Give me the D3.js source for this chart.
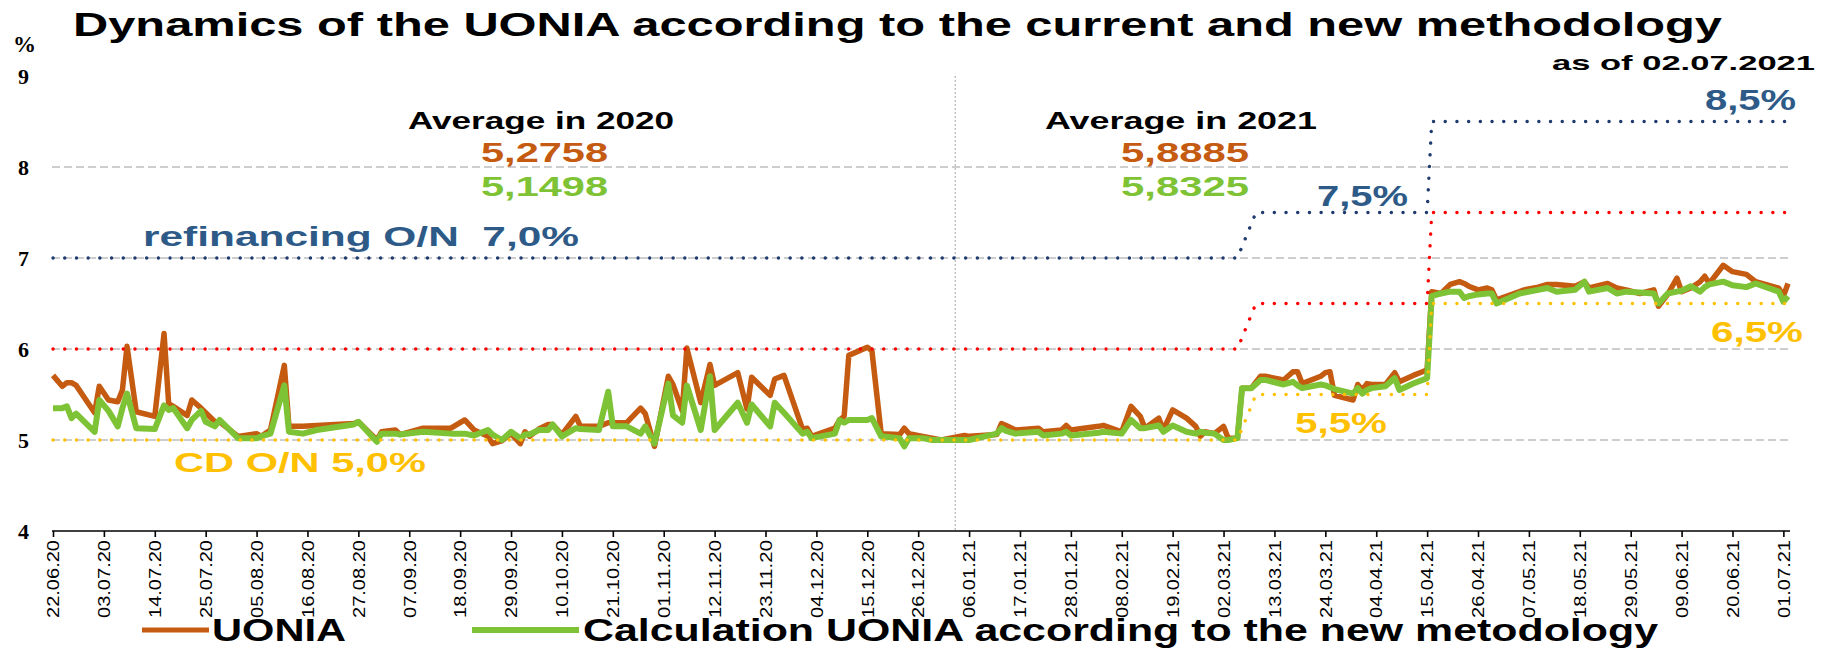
<!DOCTYPE html>
<html><head><meta charset="utf-8">
<script src="https://cdn.jsdelivr.net/npm/d3@7"></script>
<style>body{margin:0;background:#fff}svg{display:block}</style>
</head><body>
<svg id="c" width="1827" height="649"></svg>
<script>
const dates = ["22.06.20","24.06.20","25.06.20","26.06.20","27.06.20","01.07.20","02.07.20","04.07.20","06.07.20","07.07.20","08.07.20","10.07.20","14.07.20","16.07.20","17.07.20","18.07.20","21.07.20","22.07.20","24.07.20","25.07.20","27.07.20","28.07.20","01.08.20","05.08.20","06.08.20","08.08.20","11.08.20","12.08.20","15.08.20","18.08.20","26.08.20","27.08.20","31.08.20","01.09.20","04.09.20","05.09.20","10.09.20","16.09.20","19.09.20","21.09.20","24.09.20","25.09.20","27.09.20","29.09.20","01.10.20","02.10.20","03.10.20","05.10.20","07.10.20","08.10.20","10.10.20","13.10.20","14.10.20","18.10.20","20.10.20","21.10.20","24.10.20","27.10.20","28.10.20","30.10.20","02.11.20","03.11.20","05.11.20","06.11.20","09.11.20","11.11.20","12.11.20","17.11.20","19.11.20","20.11.20","24.11.20","25.11.20","27.11.20","01.12.20","02.12.20","03.12.20","08.12.20","09.12.20","10.12.20","11.12.20","15.12.20","16.12.20","18.12.20","22.12.20","23.12.20","24.12.20","27.12.20","29.12.20","31.12.20","05.01.21","06.01.21","12.01.21","13.01.21","14.01.21","16.01.21","21.01.21","22.01.21","26.01.21","27.01.21","28.01.21","03.02.21","04.02.21","08.02.21","10.02.21","12.02.21","13.02.21","16.02.21","17.02.21","19.02.21","22.02.21","24.02.21","25.02.21","26.02.21","28.02.21","02.03.21","03.03.21","05.03.21","06.03.21","08.03.21","10.03.21","11.03.21","15.03.21","17.03.21","18.03.21","19.03.21","23.03.21","24.03.21","25.03.21","26.03.21","30.03.21","31.03.21","01.04.21","02.04.21","03.04.21","06.04.21","08.04.21","09.04.21","12.04.21","14.04.21","15.04.21","16.04.21","18.04.21","20.04.21","22.04.21","23.04.21","24.04.21","26.04.21","28.04.21","29.04.21","30.04.21","05.05.21","06.05.21","09.05.21","11.05.21","13.05.21","17.05.21","19.05.21","20.05.21","24.05.21","26.05.21","28.05.21","31.05.21","03.06.21","04.06.21","06.06.21","08.06.21","09.06.21","11.06.21","13.06.21","14.06.21","15.06.21","18.06.21","20.06.21","23.06.21","25.06.21","30.06.21","01.07.21","02.07.21"];
const uonia = [5.71,5.59,5.63,5.63,5.60,5.30,5.59,5.44,5.42,5.55,6.03,5.31,5.26,6.17,5.40,5.37,5.27,5.44,5.35,5.30,5.20,5.20,5.04,5.07,5.04,5.11,5.82,5.15,5.15,5.16,5.18,5.20,5.00,5.09,5.11,5.06,5.13,5.13,5.22,5.11,5.04,4.96,4.99,5.07,4.96,5.09,5.04,5.12,5.17,5.17,5.06,5.26,5.15,5.15,5.19,5.19,5.19,5.35,5.29,4.93,5.70,5.61,5.32,6.01,5.41,5.83,5.60,5.74,5.34,5.69,5.49,5.67,5.71,5.12,5.13,5.04,5.13,5.22,5.26,5.93,6.02,5.98,5.07,5.06,5.13,5.07,5.04,5.02,5.00,5.05,5.04,5.06,5.18,5.16,5.11,5.13,5.09,5.11,5.16,5.11,5.15,5.16,5.09,5.37,5.26,5.13,5.24,5.11,5.33,5.24,5.15,5.04,5.09,5.07,5.15,5.02,5.02,5.57,5.57,5.70,5.70,5.66,5.75,5.75,5.62,5.70,5.74,5.75,5.49,5.44,5.61,5.55,5.62,5.61,5.61,5.74,5.64,5.71,5.75,5.77,6.63,6.61,6.71,6.74,6.72,6.69,6.65,6.67,6.65,6.54,6.63,6.65,6.68,6.71,6.71,6.69,6.74,6.67,6.72,6.67,6.65,6.61,6.65,6.47,6.60,6.78,6.63,6.67,6.74,6.80,6.72,6.92,6.85,6.82,6.74,6.67,6.58,6.72];
const newMethod = [5.35,5.35,5.37,5.24,5.29,5.09,5.44,5.32,5.15,5.35,5.51,5.13,5.12,5.38,5.33,5.35,5.13,5.22,5.32,5.20,5.15,5.22,5.02,5.02,5.04,5.07,5.60,5.09,5.07,5.11,5.17,5.20,4.98,5.07,5.07,5.06,5.09,5.07,5.07,5.05,5.11,5.06,5.00,5.09,5.02,5.06,5.06,5.11,5.11,5.17,5.04,5.13,5.12,5.11,5.53,5.15,5.15,5.07,5.15,4.96,5.62,5.27,5.19,5.60,5.11,5.70,5.11,5.41,5.19,5.39,5.15,5.41,5.30,5.07,5.09,5.02,5.07,5.22,5.19,5.22,5.22,5.24,5.04,5.02,4.93,5.02,5.02,5.00,5.00,5.00,5.00,5.07,5.13,5.10,5.07,5.09,5.05,5.07,5.09,5.05,5.08,5.09,5.07,5.22,5.13,5.13,5.16,5.09,5.16,5.09,5.07,5.09,5.08,5.07,5.00,5.00,5.02,5.57,5.57,5.66,5.66,5.61,5.64,5.60,5.57,5.61,5.60,5.58,5.56,5.51,5.57,5.51,5.55,5.57,5.59,5.68,5.55,5.62,5.66,5.68,6.58,6.61,6.63,6.63,6.56,6.58,6.60,6.61,6.61,6.50,6.61,6.62,6.65,6.67,6.63,6.65,6.74,6.63,6.67,6.61,6.63,6.62,6.61,6.50,6.61,6.63,6.64,6.69,6.63,6.68,6.71,6.74,6.70,6.68,6.72,6.63,6.52,6.58];
const rateDates = ["22.06.20","05.03.21","09.03.21","15.04.21","16.04.21","02.07.21"];
const refinancing = [7.0,7.0,7.5,7.5,8.5,8.5];
const repoRate = [6.0,6.0,6.5,6.5,7.5,7.5];
const depositRate = [5.0,5.0,5.5,5.5,6.5,6.5];
const tickDates = ["22.06.20","03.07.20","14.07.20","25.07.20","05.08.20","16.08.20","27.08.20","07.09.20","18.09.20","29.09.20","10.10.20","21.10.20","01.11.20","12.11.20","23.11.20","04.12.20","15.12.20","26.12.20","06.01.21","17.01.21","28.01.21","08.02.21","19.02.21","02.03.21","13.03.21","24.03.21","04.04.21","15.04.21","26.04.21","07.05.21","18.05.21","29.05.21","09.06.21","20.06.21","01.07.21"];
const yTicks = [4,5,6,7,8,9];
const gridValues = [5,6,7,8];
const yearSplit = "03.01.21";
const avg2020 = ["5,2758","5,1498"];
const avg2021 = ["5,8885","5,8325"];
const seriesNames = ["UONIA","Calculation UONIA according to the new metodology"];

const parse = d3.timeParse("%d.%m.%y");
const svg = d3.select("#c");
const C = {orange:"#C55A11", green:"#7DC335", red:"#FF0000", yellow:"#FFC000", navy:"#1F3A6E", navyText:"#2E5A88", grid:"#BFBFBF"};

const x = d3.scaleTime().domain([parse("22.06.20"), parse("02.07.21")]).range([53, 1788]);
const y = d3.scaleLinear().domain([4, 9]).range([531, 76]);

// grid
svg.append("g").selectAll("line").data(gridValues).join("line")
  .attr("x1", 52).attr("x2", 1791).attr("y1", d => y(d)).attr("y2", d => y(d))
  .attr("stroke", C.grid).attr("stroke-width", 1.6).attr("stroke-dasharray", "8,4");

// year separator
svg.append("line").attr("x1", x(parse(yearSplit))).attr("x2", x(parse(yearSplit)))
  .attr("y1", y(9)).attr("y2", y(4)).attr("stroke", "#A6A6A6").attr("stroke-width", 1).attr("stroke-dasharray", "2,2");

// x axis
const xAxis = d3.axisBottom(x).tickValues(tickDates.map(parse)).tickFormat(d3.timeFormat("%d.%m.%y")).tickSize(6).tickSizeOuter(0);
const gx = svg.append("g").attr("transform", "translate(0,531)").call(xAxis);
gx.select(".domain").attr("stroke", "#000").attr("stroke-width", 1.6).attr("d", "M52,0H1790");
gx.selectAll(".tick line").attr("stroke", "#000").attr("stroke-width", 1.6);
gx.selectAll(".tick text")
  .attr("font-family", "'Liberation Sans', Arial, sans-serif").attr("font-size", 16).attr("fill", "#000")
  .attr("transform", "rotate(-90)").attr("text-anchor", "end")
  .attr("x", -9).attr("y", 0).attr("dy", "0.36em")
  .attr("textLength", 78).attr("lengthAdjust", "spacingAndGlyphs");

// y labels
svg.append("g").selectAll("text").data(yTicks).join("text")
  .attr("x", 29).attr("y", d => y(d)).attr("dy", "0.35em").attr("text-anchor", "end")
  .attr("font-family", "'Liberation Serif', 'Times New Roman', serif").attr("font-weight", "bold").attr("font-size", 22)
  .text(d => d);
svg.append("text").attr("x", 13).attr("y", 52).attr("font-family", "'Liberation Serif', serif").attr("font-weight", "bold").attr("font-size", 23).text("%");

// series
const line = d3.line().x(d => x(d[0])).y(d => y(d[1]));
const ds = dates.map(parse);
svg.append("path").datum(ds.map((d, i) => [d, uonia[i]])).attr("d", line)
  .attr("fill", "none").attr("stroke", C.orange).attr("stroke-width", 5.5).attr("stroke-linejoin", "round");
svg.append("path").datum(ds.map((d, i) => [d, newMethod[i]])).attr("d", line)
  .attr("fill", "none").attr("stroke", C.green).attr("stroke-width", 6).attr("stroke-linejoin", "round");

// rate lines (dotted)
const rd = rateDates.map(parse);
[[refinancing, C.navy], [repoRate, C.red], [depositRate, C.yellow]].forEach(([vals, col]) => {
  svg.append("path").datum(rd.map((d, i) => [d, vals[i]])).attr("d", line)
    .attr("fill", "none").attr("stroke", col).attr("stroke-width", 3.4)
    .attr("stroke-linecap", "round").attr("stroke-dasharray", "0.1,11.6");
});

// texts
function txt(xp, yp, s, size, col, w, fam) {
  const t = svg.append("text").attr("x", xp).attr("y", yp).attr("font-size", size)
    .attr("font-family", fam || "'Liberation Sans', Arial, sans-serif").attr("font-weight", "bold")
    .attr("fill", col).text(s);
  if (w) t.attr("textLength", w).attr("lengthAdjust", "spacingAndGlyphs");
  return t;
}
txt(73, 36, "Dynamics of the UONIA according to the current and new methodology", 34, "#000", 1649);
txt(1552, 70, "as of 02.07.2021", 21, "#000", 263);
txt(408, 129, "Average in 2020", 24, "#000", 266);
txt(1045, 129, "Average in 2021", 24, "#000", 272);
txt(481, 162, avg2020[0], 28, C.orange, 127);
txt(481, 196, avg2020[1], 28, C.green, 127);
txt(1121, 162, avg2021[0], 28, C.orange, 128);
txt(1121, 196, avg2021[1], 28, C.green, 128);
txt(143, 246, "refinancing O/N  7,0%", 28, C.navyText, 436).attr("xml:space", "preserve");
txt(1317, 206, "7,5%", 29, C.navyText, 91);
txt(1705, 110, "8,5%", 29, C.navyText, 91);
txt(174, 472, "CD O/N 5,0%", 28, C.yellow, 252);
txt(1295, 433, "5,5%", 29, C.yellow, 92);
txt(1711, 342, "6,5%", 29, C.yellow, 92);

// legend
svg.append("line").attr("x1", 142).attr("x2", 209).attr("y1", 630).attr("y2", 630).attr("stroke", C.orange).attr("stroke-width", 5);
txt(212, 641, seriesNames[0], 31, "#000", 134);
svg.append("line").attr("x1", 472).attr("x2", 579).attr("y1", 630).attr("y2", 630).attr("stroke", C.green).attr("stroke-width", 6);
txt(583, 641, seriesNames[1], 31, "#000", 1075);
</script>
</body></html>
